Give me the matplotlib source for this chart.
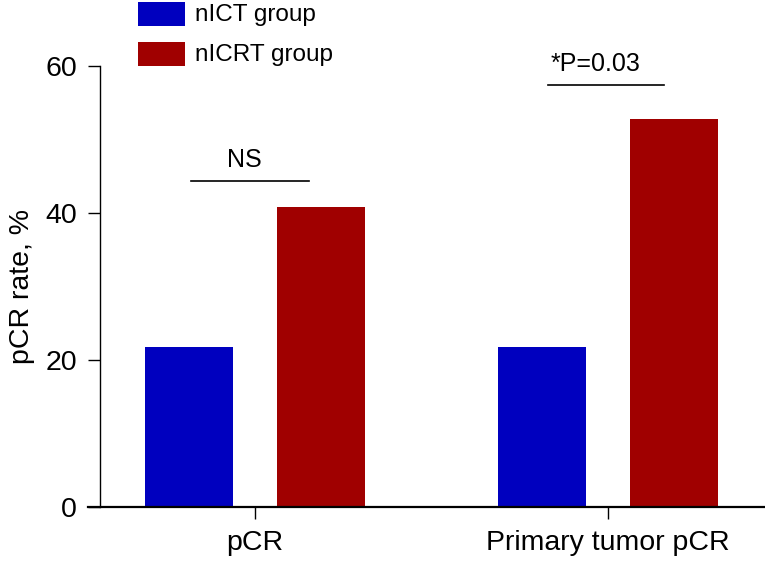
import numpy as np
import matplotlib
matplotlib.use("Agg")
from matplotlib import pyplot as plt
from matplotlib.patches import Rectangle

plt.rcParams['font.family'] = ['Liberation Sans', 'DejaVu Sans']

# data
categories = ["pCR", "Primary tumor pCR"]
groups = ["nICT group", "nICRT group"]
nict = [21.8, 21.8]
nicrt = [40.8, 52.8]
colors = ["#0000BF", "#A00000"]

# significance labels
sig_text = ["NS", "*P=0.03"]
sig_y = [44.4, 57.4]
sig_x0 = [-0.18, 0.83]
sig_x1 = [0.153, 1.16]
sig_tx = [-0.031, 0.966]   # where the label text is centred

fig = plt.figure(figsize=(7.65, 5.67), dpi=100)
W, H = 765, 567
ax = fig.add_axes([88 / W, 1 - 507 / H, (765 - 88) / W, (507 - 66) / H])

x = np.arange(len(categories))
width = 0.249
off = 0.1877
ax.bar(x - off, nict, width, color=colors[0], linewidth=0)
ax.bar(x + off, nicrt, width, color=colors[1], linewidth=0)

ax.set_xlim(-0.473, 1.445)
ax.set_ylim(0, 60)
ax.set_yticks([0, 20, 40, 60])
ax.set_xticks(x)
ax.set_xticklabels(categories)

ax.spines['top'].set_visible(False)
ax.spines['right'].set_visible(False)
ax.spines['left'].set_position(('data', -0.439))
ax.spines['left'].set_linewidth(1.0)
ax.spines['bottom'].set_linewidth(1.6)
ax.tick_params(axis='y', direction='out', length=8.6, width=1.0, labelsize=20.5, pad=8)
ax.tick_params(axis='x', direction='out', length=8.6, width=1.0, labelsize=20.5, pad=8)
ax.set_ylabel("pCR rate, %", fontsize=20.5)
ax.yaxis.set_label_coords(-0.078, 0.5)

for t, yy, a, b, tx in zip(sig_text, sig_y, sig_x0, sig_x1, sig_tx):
    ax.plot([a, b], [yy, yy], color='black', lw=1.2, clip_on=False)
    ax.text(tx, yy + 1.2, t, ha='center', va='bottom', fontsize=18, clip_on=False)

# legend drawn in figure pixels
legend_y = [2, 42]
for lab, c, y0 in zip(groups, colors, legend_y):
    fig.add_artist(Rectangle((138 / W, 1 - (y0 + 24) / H), 47 / W, 24 / H,
                             transform=fig.transFigure, color=c, lw=0))
    fig.text(195 / W, 1 - (y0 + 13) / H, lab, fontsize=17.5, va='center', ha='left')

fig.savefig("out.png", dpi=100)
